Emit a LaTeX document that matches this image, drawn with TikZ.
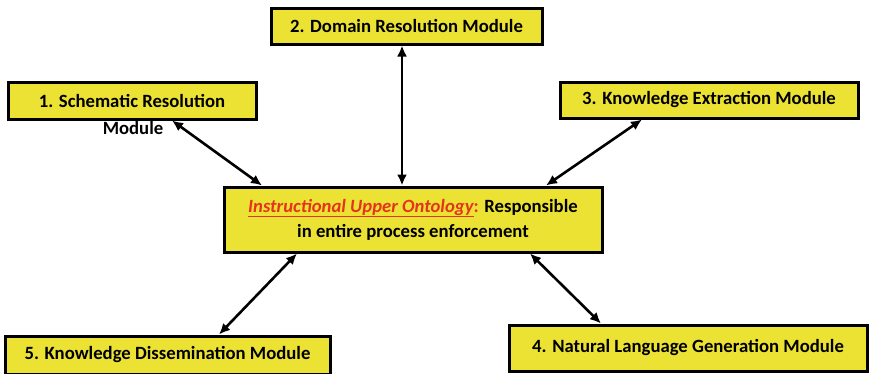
\documentclass[tikz,border=0pt]{standalone}
\usepackage{fontspec}
\setmainfont{Carlito}
\usepackage{xcolor}
\definecolor{mdyellow}{RGB}{236,226,52}
\definecolor{mdred}{RGB}{228,52,30}
\usetikzlibrary{arrows.meta,positioning,calc}
\tikzset{
  mbox/.style={draw=black, line width=3pt, fill=mdyellow, font=\fontsize{18.7}{22}\selectfont\bfseries,
               minimum width=#1, inner sep=0pt},
  link/.style={line width=2.6pt, {Latex[length=11pt,width=10pt]}-{Latex[length=11pt,width=10pt]}},
}
\begin{document}
\begin{tikzpicture}[x=1pt, y=-1pt]
\useasboundingbox (0,0) rectangle (871,373);
% Top row: the modules around the ontology
\node[mbox=271pt, minimum height=36pt] (m2) at (406.5,26) {2. Domain Resolution Module};
\node[mbox=248pt, minimum height=37pt] (m1) at (132,100.5) {1. Schematic Resolution};
\node[font=\fontsize{18.7}{22}\selectfont\bfseries, inner sep=0pt] (m1b) at (133,128) {Module};
\node[mbox=298pt, minimum height=36pt] (m3) at (709,100) {3. Knowledge Extraction Module};

% Centre: the upper ontology
\node[mbox=378pt, minimum height=65pt, align=center, font=\fontsize{18.7}{25}\selectfont\bfseries] (ctr) at (413,219.5)
  {{\color{mdred}\underline{\itshape Instructional Upper Ontology}:} Responsible\\in entire process enforcement};

% Bottom row
\node[mbox=325pt, minimum height=38pt] (m5) at (167.5,355) {5. Knowledge Dissemination Module};
\node[mbox=358pt, minimum height=46pt] (m4) at (688,348) {4. Natural Language Generation Module};

% Connectors
\draw[link] ([xshift=40pt]m1.south) -- ([xshift=-151pt]ctr.north);
\draw[link] ([xshift=-4.5pt]m2.south) -- ([xshift=-11pt]ctr.north);
\draw[link] ([xshift=-67pt]m3.south) -- ([xshift=133pt]ctr.north);
\draw[link] ([xshift=-116pt]ctr.south) -- ([xshift=51.5pt]m5.north);
\draw[link] ([xshift=117pt]ctr.south) -- ([xshift=-87pt]m4.north);
\end{tikzpicture}
\end{document}
